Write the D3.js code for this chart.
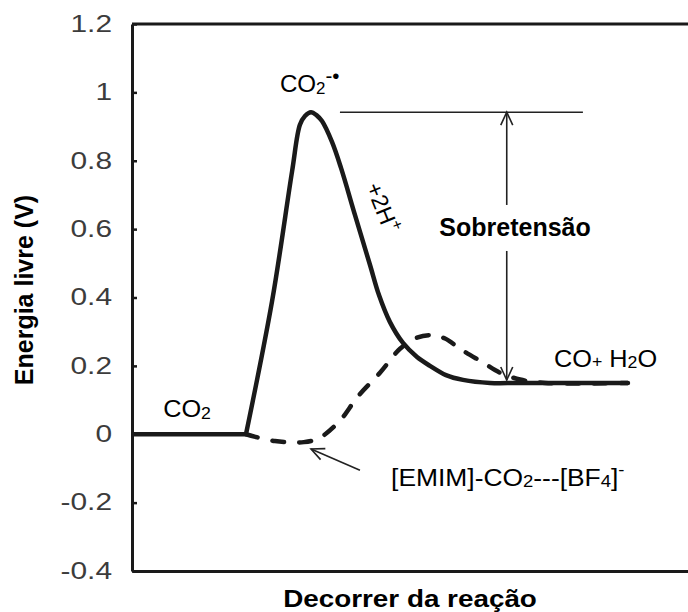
<!DOCTYPE html>
<html>
<head>
<meta charset="utf-8">
<script src="https://cdn.jsdelivr.net/npm/d3@7"></script>
<style>
  body { margin: 0; background: #fff; }
  svg { display: block; }
</style>
</head>
<body>
<svg id="chart" width="688" height="612"></svg>
<script>
// Free-energy axis (V)
const yTicks = [-0.4, -0.2, 0, 0.2, 0.4, 0.6, 0.8, 1, 1.2];
const yTickLabels = ["-0.4", "-0.2", "0", "0.2", "0.4", "0.6", "0.8", "1", "1.2"];

// Direct route CO2 -> CO2•- -> CO + H2O (reaction coordinate, energy in V)
const directX = [0, 2.05, 2.52, 2.88, 3.02, 3.111, 3.219, 3.327, 3.417, 3.597, 3.759, 4.011, 4.281, 4.442, 4.64, 4.874, 5.126, 5.36, 5.647, 5.953, 6.439, 6.978, 8.92];
const directE = [0, 0, 0.39, 0.77, 0.905, 0.931, 0.942, 0.932, 0.916, 0.855, 0.779, 0.641, 0.495, 0.407, 0.328, 0.267, 0.226, 0.2, 0.173, 0.159, 0.15, 0.15, 0.15];

// Route through the [EMIM]-CO2---[BF4]- complex
const ionicX = [2.05, 2.57, 3.09, 3.38, 3.74, 4.06, 4.46, 4.82, 5.09, 5.36, 5.63, 5.90, 6.31, 6.62, 6.98, 7.43, 8.92];
const ionicE = [0, -0.02, -0.023, -0.01, 0.04, 0.11, 0.18, 0.25, 0.28, 0.29, 0.28, 0.25, 0.21, 0.18, 0.16, 0.15, 0.15];

// Overpotential marker: from the CO2•- level down to the CO + H2O level
const overX = 6.74;
const overTop = 0.942;
const overBottom = 0.15;
const overBarFrom = 3.74;
const overBarTo = 8.11;

(function draw() {
  const svg = d3.select("#chart");
  const FONT = "'Liberation Sans', Arial, Helvetica, sans-serif";
  const INK = "#1a1a1a";

  const plotLeft = 132, plotTop = 24, plotBottom = 571, plotRight = 688;
  const x = d3.scaleLinear().domain([0, 10]).range([plotLeft, plotRight]);
  const y = d3.scaleLinear().domain([-0.4, 1.2]).range([plotBottom, plotTop]);

  // arrowhead
  svg.append("defs").append("marker")
    .attr("id", "head")
    .attr("viewBox", "-15 -8 17 16")
    .attr("refX", 0).attr("refY", 0)
    .attr("markerWidth", 17).attr("markerHeight", 16)
    .attr("markerUnits", "userSpaceOnUse")
    .attr("orient", "auto")
    .append("path")
    .attr("d", "M-13,-6L0,0L-13,6")
    .attr("fill", "none").attr("stroke", "#222").attr("stroke-width", 1.6);

  // frame: left axis with inward ticks, bottom and top borders
  const yAxis = d3.axisLeft(y)
    .tickValues(yTicks)
    .tickFormat((d, i) => yTickLabels[i])
    .tickSizeInner(-5).tickSizeOuter(0).tickPadding(20);
  const gy = svg.append("g").attr("transform", `translate(${plotLeft},0)`).call(yAxis);
  gy.select(".domain").attr("stroke", INK).attr("stroke-width", 3);
  gy.selectAll(".tick line").attr("stroke", INK).attr("stroke-width", 2.5);
  const tickStretch = 1.3;
  gy.selectAll(".tick text")
    .attr("font-family", FONT).attr("font-size", 23).attr("fill", "#3c3c3c")
    .attr("x", -20 / tickStretch)
    .attr("transform", `scale(${tickStretch},1)`);

  const gx = svg.append("g").attr("transform", `translate(0,${plotBottom})`)
    .call(d3.axisBottom(x).tickValues([]).tickSizeOuter(0));
  gx.select(".domain").attr("stroke", INK).attr("stroke-width", 3);

  svg.append("line")
    .attr("x1", plotLeft).attr("x2", plotRight + 10)
    .attr("y1", plotTop).attr("y2", plotTop)
    .attr("stroke", INK).attr("stroke-width", 3);

  // energy profiles
  const straight = d3.line().x(d => x(d[0])).y(d => y(d[1]));
  const smooth = d3.line().x(d => x(d[0])).y(d => y(d[1])).curve(d3.curveCatmullRom.alpha(0.5));

  const directPts = directX.map((v, i) => [v, directE[i]]);
  const ionicPts = ionicX.map((v, i) => [v, ionicE[i]]);

  svg.append("path")
    .attr("d", straight(directPts.slice(0, 2)) + smooth(directPts.slice(1)).replace(/^M/, "L"))
    .attr("fill", "none").attr("stroke", INK).attr("stroke-width", 4.5)
    .attr("stroke-linejoin", "miter");

  svg.append("path")
    .attr("d", smooth(ionicPts))
    .attr("fill", "none").attr("stroke", INK).attr("stroke-width", 4.5)
    .attr("stroke-dasharray", "12,15").attr("stroke-linecap", "round");

  // text with sub/superscripts
  function chem(parts, px, py, opt = {}) {
    const size = opt.size || 23;
    const k = opt.k || 1;
    const t = svg.append("text")
      .attr("transform", `translate(${px},${py}) rotate(${opt.rotate || 0}) scale(${k},1)`)
      .attr("font-family", FONT).attr("font-size", size)
      .attr("font-weight", opt.weight || "normal")
      .attr("text-anchor", opt.anchor || "start")
      .attr("fill", "#000");
    let shift = 0;
    parts.forEach(([s, kind, rel]) => {
      const off = kind === "sub" ? 0.06 : kind === "sup" ? -0.42 : 0;
      const ts = t.append("tspan").text(s)
        .attr("font-size", kind ? size * (rel || 0.7) : size);
      const dy = off * size - shift;
      if (dy) ts.attr("dy", dy);
      shift = off * size;
    });
    return t;
  }

  chem([["CO"], ["2", "sub"]], x(0.56), y(0.05), { k: 1.1 });
  chem([["CO"], ["2", "sub"], ["-\u2022", "sup", 0.85]], x(2.66), y(1.0), { k: 1.05 });
  chem([["+2H"], ["+", "sup"]], x(4.2), y(0.725), { size: 23, rotate: 68 });
  chem([["CO"], ["+", "small"], [" H"], ["2", "sub"], ["O"]], x(7.59), y(0.197), { k: 1.1 });
  chem([["[EMIM]-CO"], ["2", "sub"], ["---[BF"], ["4", "sub"], ["]"], ["-", "sup"]], x(4.66), y(-0.15), { size: 24, k: 1.1 });

  const over = chem([["Sobretensão"]], x(6.89), y(0.58), { size: 25, weight: "bold", anchor: "middle" });

  // overpotential bar and double arrow, broken around its label
  const ob = over.node().getBBox();
  const labelY = y(0.58);
  const gapTop = labelY + ob.y - 8;
  const gapBottom = labelY + ob.y + ob.height + 10;

  svg.append("line")
    .attr("x1", x(overBarFrom)).attr("x2", x(overBarTo))
    .attr("y1", y(overTop)).attr("y2", y(overTop))
    .attr("stroke", "#222").attr("stroke-width", 1.6);
  svg.append("line")
    .attr("x1", x(overX)).attr("x2", x(overX))
    .attr("y1", gapTop).attr("y2", y(overTop))
    .attr("stroke", "#222").attr("stroke-width", 1.6)
    .attr("marker-end", "url(#head)");
  svg.append("line")
    .attr("x1", x(overX)).attr("x2", x(overX))
    .attr("y1", gapBottom).attr("y2", y(overBottom) - 3)
    .attr("stroke", "#222").attr("stroke-width", 1.6)
    .attr("marker-end", "url(#head)");

  // pointer to the complex minimum
  svg.append("line")
    .attr("x1", x(4.10)).attr("y1", y(-0.105))
    .attr("x2", x(3.22)).attr("y2", y(-0.043))
    .attr("stroke", "#222").attr("stroke-width", 1.6)
    .attr("marker-end", "url(#head)");

  // axis titles
  svg.append("text")
    .attr("transform", "translate(33,290) rotate(-90)")
    .attr("text-anchor", "middle")
    .attr("font-family", FONT).attr("font-size", 25).attr("font-weight", "bold")
    .attr("fill", "#000")
    .text("Energia livre (V)");

  svg.append("text")
    .attr("transform", "translate(410,607) scale(1.16,1)")
    .attr("text-anchor", "middle")
    .attr("font-family", FONT).attr("font-size", 24).attr("font-weight", "bold")
    .attr("fill", "#000")
    .text("Decorrer da reação");
})();
</script>
</body>
</html>
